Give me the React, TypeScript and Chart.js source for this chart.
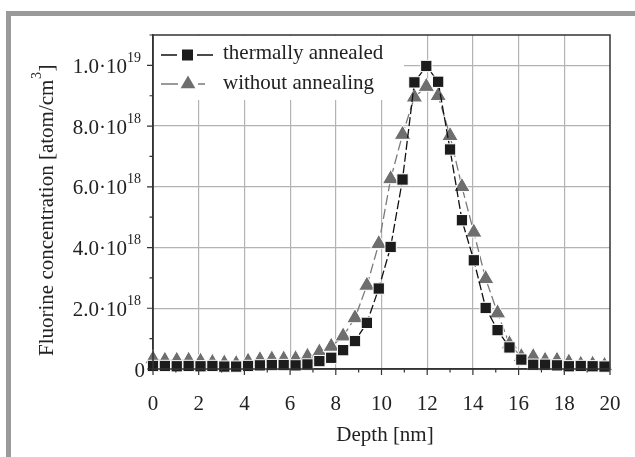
import React, { useEffect, useRef } from "react";
import { Chart, registerables } from "chart.js";

Chart.register(...registerables);

// Depth [nm]
const depth = [
  0, 0.52, 1.04, 1.56, 2.08, 2.6, 3.12, 3.64, 4.16, 4.68, 5.2, 5.72, 6.24, 6.76, 7.28, 7.8, 8.32, 8.84,
  9.36, 9.88, 10.4, 10.92, 11.44, 11.96, 12.48, 13.0, 13.52, 14.04, 14.56, 15.08, 15.6, 16.12, 16.64,
  17.16, 17.68, 18.2, 18.72, 19.24, 19.76,
];
// Fluorine concentration, in units of 1e18 atom/cm^3
const thermallyAnnealed = [
  0.1, 0.1, 0.09, 0.1, 0.09, 0.1, 0.08, 0.08, 0.1, 0.12, 0.13, 0.13, 0.12, 0.15, 0.26, 0.37, 0.62, 0.92,
  1.52, 2.65, 4.02, 6.24, 9.44, 9.98, 9.46, 7.23, 4.9, 3.58, 2.01, 1.28, 0.71, 0.31, 0.14, 0.14, 0.12,
  0.09, 0.1, 0.09, 0.08,
];
const withoutAnnealing = [
  0.33, 0.28, 0.28, 0.28, 0.25, 0.21, 0.19, 0.17, 0.25, 0.3, 0.32, 0.32, 0.33, 0.41, 0.55, 0.74, 1.08,
  1.68, 2.75, 4.12, 6.26, 7.72, 8.95, 9.3, 9.0, 7.68, 6.0, 4.5, 2.97, 1.84, 0.82, 0.4, 0.4, 0.28, 0.28,
  0.22, 0.15, 0.15, 0.11,
];
const seriesNames = ["thermally annealed", "without annealing"];

const xTickValues = [0, 2, 4, 6, 8, 10, 12, 14, 16, 18, 20];
const yTickValues = [0, 2, 4, 6, 8, 10];
const yTickBase = ["0", "2.0\u00b710", "4.0\u00b710", "6.0\u00b710", "8.0\u00b710", "1.0\u00b710"];
const yTickExp = ["", "18", "18", "18", "18", "19"];
const xTitle = "Depth [nm]";
const yTitleMain = "Fluorine concentration [atom/cm";
const yTitleSup = "3";
const yTitleEnd = "]";

const FONT = "'Liberation Serif', 'Times New Roman', serif";
const TEXT = "#222";
const AXIS = "#333";
const BLACK_FILL = "#1c1c1c";
const GRAY_FILL = "#6e6e6e";
const GRAY_LINE = "#7a7a7a";

function drawTri(ctx: CanvasRenderingContext2D, x: number, y: number, r: number) {
  ctx.beginPath();
  ctx.moveTo(x, y - r);
  ctx.lineTo(x + r * Math.sin(Math.PI / 3), y + r * 0.5);
  ctx.lineTo(x - r * Math.sin(Math.PI / 3), y + r * 0.5);
  ctx.closePath();
}

const overlay = {
  id: "overlay",
  afterDraw(chart: any) {
    const ctx: CanvasRenderingContext2D = chart.ctx;
    const a = chart.chartArea;
    const xs = chart.scales.x;
    const ys = chart.scales.y;
    ctx.save();

    // legend box
    ctx.fillStyle = "#ffffff";
    ctx.fillRect(a.left + 1, a.top + 1, 403 - a.left, 99 - a.top);

    // frame
    ctx.strokeStyle = AXIS;
    ctx.lineWidth = 1.5;
    ctx.strokeRect(a.left, a.top, a.right - a.left, a.bottom - a.top);

    // tick marks
    ctx.lineWidth = 1.2;
    ctx.beginPath();
    for (let v = 0; v <= 20; v++) {
      const px = xs.getPixelForValue(v);
      const len = v % 2 === 0 ? 6 : 3.5;
      ctx.moveTo(px, a.bottom);
      ctx.lineTo(px, a.bottom + len);
    }
    for (let v = 0; v <= 11; v++) {
      const py = ys.getPixelForValue(v);
      const len = v % 2 === 0 ? 6 : 3.5;
      ctx.moveTo(a.left, py);
      ctx.lineTo(a.left - len, py);
    }
    ctx.stroke();

    // x tick labels
    ctx.fillStyle = TEXT;
    ctx.font = `21px ${FONT}`;
    ctx.textAlign = "center";
    ctx.textBaseline = "alphabetic";
    xTickValues.forEach((v) => {
      ctx.fillText(String(v), xs.getPixelForValue(v), 410);
    });
    ctx.fillText(xTitle, 385, 441);

    // y tick labels
    yTickValues.forEach((v, i) => {
      const py = ys.getPixelForValue(v);
      const right = yTickExp[i] ? 141 : 145;
      ctx.textAlign = "left";
      ctx.font = `14px ${FONT}`;
      const wExp = yTickExp[i] ? ctx.measureText(yTickExp[i]).width : 0;
      ctx.font = `21px ${FONT}`;
      const wBase = ctx.measureText(yTickBase[i]).width;
      const x0 = right - wExp - wBase;
      ctx.fillText(yTickBase[i], x0, py + 7.5);
      if (yTickExp[i]) {
        ctx.font = `14px ${FONT}`;
        ctx.fillText(yTickExp[i], x0 + wBase, py - 3.5);
      }
    });

    // y title (rotated)
    ctx.save();
    ctx.translate(53, 356);
    ctx.rotate(-Math.PI / 2);
    ctx.textAlign = "left";
    ctx.font = `21px ${FONT}`;
    ctx.fillText(yTitleMain, 0, 0);
    const w1 = ctx.measureText(yTitleMain).width;
    ctx.font = `14px ${FONT}`;
    ctx.fillText(yTitleSup, w1 + 0.5, -12);
    const w2 = ctx.measureText(yTitleSup).width;
    ctx.font = `21px ${FONT}`;
    ctx.fillText(yTitleEnd, w1 + w2 + 1, 0);
    ctx.restore();

    // legend
    ctx.lineWidth = 1.5;
    ctx.strokeStyle = "#111";
    ctx.beginPath();
    ctx.moveTo(161, 55);
    ctx.lineTo(177, 55);
    ctx.moveTo(197, 55);
    ctx.lineTo(213, 55);
    ctx.stroke();
    ctx.fillStyle = BLACK_FILL;
    ctx.fillRect(182, 49.5, 11, 11);

    ctx.strokeStyle = GRAY_LINE;
    ctx.beginPath();
    ctx.moveTo(161, 84);
    ctx.lineTo(178, 84);
    ctx.moveTo(198, 84);
    ctx.lineTo(205, 84);
    ctx.stroke();
    ctx.fillStyle = GRAY_FILL;
    drawTri(ctx, 188, 84, 8.5);
    ctx.fill();

    ctx.fillStyle = TEXT;
    ctx.font = `21px ${FONT}`;
    ctx.textAlign = "left";
    ctx.fillText(seriesNames[0], 223, 58.5);
    ctx.fillText(seriesNames[1], 223, 88.5);

    ctx.restore();
  },
};

export default function App() {
  const canvasRef = useRef<HTMLCanvasElement | null>(null);

  useEffect(() => {
    const canvas = canvasRef.current;
    if (!canvas) return;
    const gridColor = (c: any) => {
      const v = Math.round(c.tick.value);
      return v % 2 === 0 && v > 0 ? "#b3b3b3" : "rgba(0,0,0,0)";
    };
    const chart = new Chart(canvas, {
      type: "line",
      data: {
        datasets: [
          {
            label: seriesNames[0],
            data: depth.map((d, i) => ({ x: d, y: thermallyAnnealed[i] })),
            borderColor: "#111",
            borderWidth: 1.3,
            borderDash: [9, 3],
            pointStyle: "rect",
            pointRadius: 8,
            pointBackgroundColor: BLACK_FILL,
            pointBorderColor: "#ffffff",
            pointBorderWidth: 1,
            tension: 0,
            clip: false,
          } as any,
          {
            label: seriesNames[1],
            data: depth.map((d, i) => ({ x: d, y: withoutAnnealing[i] })),
            borderColor: GRAY_LINE,
            borderWidth: 1.3,
            borderDash: [10, 4],
            pointStyle: "triangle",
            pointRadius: 9.5,
            pointBackgroundColor: GRAY_FILL,
            pointBorderColor: "#ffffff",
            pointBorderWidth: 1,
            tension: 0,
            clip: false,
          } as any,
        ],
      },
      options: {
        animation: false,
        responsive: false,
        devicePixelRatio: 1,
        events: [],
        layout: { padding: { left: 153, right: 25, top: 35, bottom: 88 } },
        plugins: { legend: { display: false }, tooltip: { enabled: false } },
        scales: {
          x: {
            type: "linear",
            min: 0,
            max: 20,
            ticks: { display: false, stepSize: 1 },
            grid: { color: (c: any) => {
              const v = Math.round(c.tick.value);
              return v % 2 === 0 && v > 0 && v < 20 ? "#b3b3b3" : "rgba(0,0,0,0)";
            }, lineWidth: 1.2, drawTicks: false },
            border: { display: true, color: AXIS, width: 1.5 },
          },
          y: {
            type: "linear",
            min: 0,
            max: 11,
            ticks: { display: false, stepSize: 1 },
            grid: { color: gridColor, lineWidth: 1.2, drawTicks: false },
            border: { display: true, color: AXIS, width: 1.5 },
          },
        },
      },
      plugins: [overlay],
    });
    return () => chart.destroy();
  }, []);

  return (
    <div style={{ position: "absolute", left: 0, top: 0, width: 635, height: 457, background: "#fff", overflow: "hidden" }}>
      <div style={{ position: "absolute", left: 6, top: 11, width: 629, height: 5, background: "#9a9a9a" }} />
      <div style={{ position: "absolute", left: 6, top: 11, width: 5, height: 446, background: "#9a9a9a" }} />
      <canvas ref={canvasRef} width={635} height={457} style={{ position: "absolute", left: 0, top: 0, width: 635, height: 457 }} />
    </div>
  );
}
